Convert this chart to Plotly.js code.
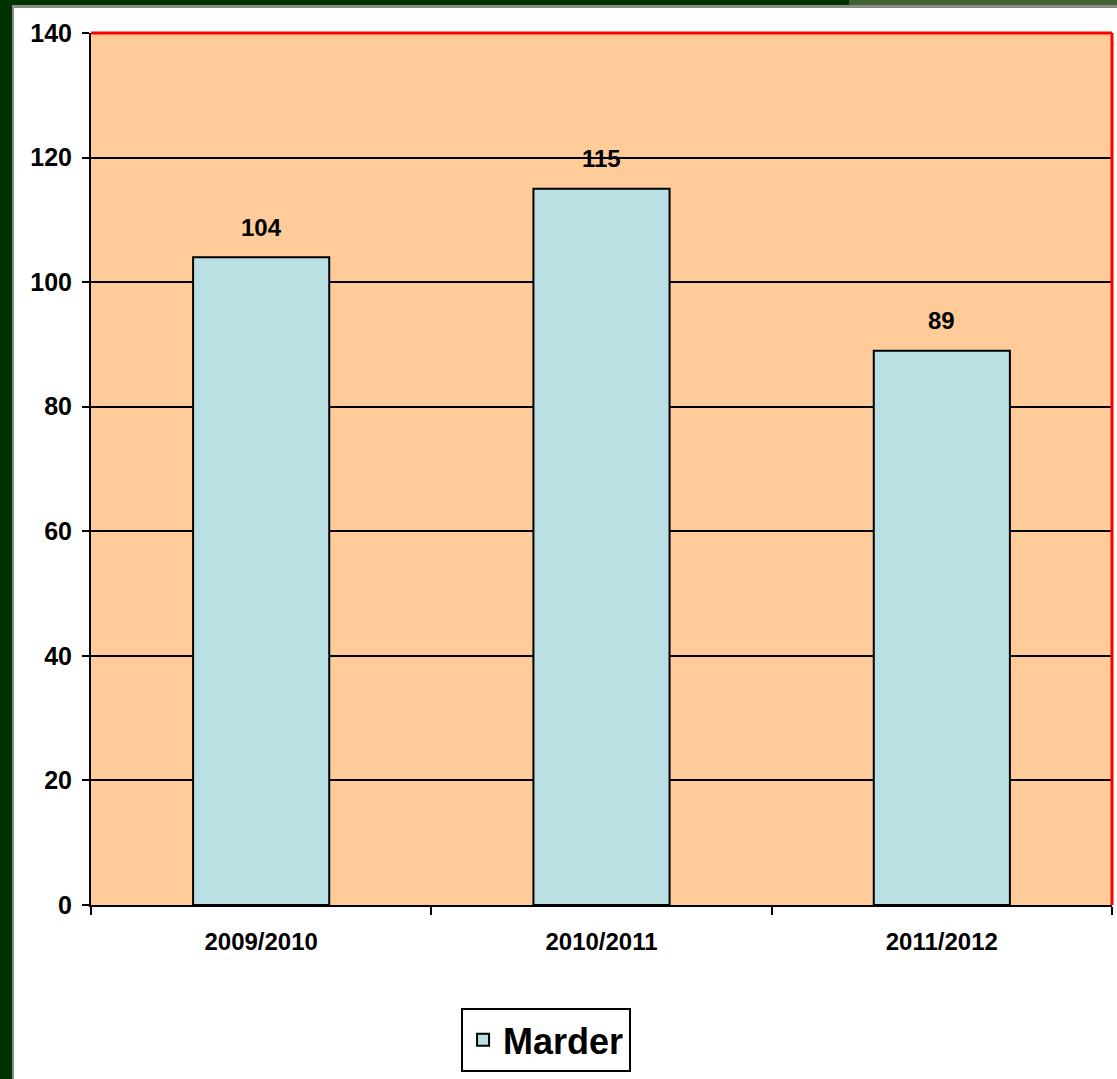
<!DOCTYPE html>
<html>
<head>
<meta charset="utf-8">
<script src="https://cdn.plot.ly/plotly-3.0.1.min.js"></script>
<style>
  html, body { margin: 0; padding: 0; background: #ffffff; }
  body { width: 1117px; height: 1079px; position: relative; overflow: hidden; }
  /* slide frame around the chart */
  .frame-left { position: absolute; left: 0; top: 0; width: 12px; height: 1079px; background: #003300; }
  .frame-left-edge { position: absolute; left: 12px; top: 5px; width: 2px; height: 1074px; background: #8a8a8a; }
  .frame-top { position: absolute; left: 0; top: 0; width: 849px; height: 5px; background: #003300; }
  .frame-top-right { position: absolute; left: 849px; top: 0; width: 268px; height: 5px; background: #416131; }
  .frame-top-edge { position: absolute; left: 12px; top: 5px; width: 1105px; height: 3px; background: #8a8a8a; }
  #chart { position: absolute; left: 14px; top: 8px; width: 1103px; height: 1071px; }
</style>
</head>
<body>
<div class="frame-left"></div>
<div class="frame-top"></div>
<div class="frame-top-right"></div>
<div class="frame-left-edge"></div>
<div class="frame-top-edge"></div>
<div id="chart"></div>
<script>
// Seasons and counts
const seasons = ['2009/2010', '2010/2011', '2011/2012'];
const marder = [104, 115, 89];
const seriesName = 'Marder';
const yTicks = [0, 20, 40, 60, 80, 100, 120, 140];

const fontFamily = '"Liberation Sans", Arial, sans-serif';

const trace = {
  type: 'bar',
  x: seasons,
  y: marder,
  name: seriesName,
  width: 0.4,
  marker: { color: '#BAE0E3', line: { color: '#000000', width: 2 } },
  showlegend: true,
  hoverinfo: 'x+y'
};

// value labels above each bar
const labels = seasons.map((s, i) => ({
  x: s, y: marder[i], xref: 'x', yref: 'y',
  text: String(marder[i]),
  showarrow: false, yanchor: 'middle', yshift: 30,
  font: { family: fontFamily, size: 24, color: '#000000', weight: 'bold' }
}));

const layout = {
  width: 1103, height: 1071,
  margin: { l: 77, r: 5, t: 25, b: 174, pad: 0 },
  paper_bgcolor: '#ffffff',
  plot_bgcolor: '#FFCC99',
  bargap: 0.6,
  font: { family: fontFamily, color: '#000000' },
  xaxis: {
    type: 'category',
    showline: true, linecolor: '#000000', linewidth: 2,
    ticks: 'outside', tickson: 'boundaries', ticklen: 8, tickwidth: 2, tickcolor: '#000000',
    ticklabelstandoff: 14,
    tickfont: { family: fontFamily, size: 24, weight: 'bold', color: '#000000' },
    showgrid: false, zeroline: false, fixedrange: true
  },
  yaxis: {
    range: [0, 140],
    tickvals: yTicks,
    ticktext: yTicks.map(String),
    showline: true, linecolor: '#000000', linewidth: 2,
    ticks: 'outside', ticklen: 7, tickwidth: 2, tickcolor: '#000000',
    ticklabelstandoff: 5,
    tickfont: { family: fontFamily, size: 25, weight: 'bold', color: '#000000' },
    showgrid: true, gridcolor: '#000000', gridwidth: 2,
    zeroline: false, fixedrange: true
  },
  shapes: [
    { type: 'line', xref: 'paper', yref: 'paper', x0: 0, x1: 1, y0: 1, y1: 1,
      line: { color: '#FF0000', width: 3 } },
    { type: 'line', xref: 'paper', yref: 'paper', x0: 1, x1: 1, y0: 0, y1: 1,
      line: { color: '#FF0000', width: 3 } }
  ],
  annotations: labels,
  showlegend: true,
  legend: {
    x: 0.4457, xanchor: 'center',
    y: -0.118, yanchor: 'top',
    orientation: 'h',
    bgcolor: '#ffffff', bordercolor: '#000000', borderwidth: 2,
    font: { family: fontFamily, size: 36, weight: 'bold', color: '#000000' }
  }
};

Plotly.newPlot('chart', [trace], layout, { displayModeBar: false, staticPlot: true });
</script>
</body>
</html>
